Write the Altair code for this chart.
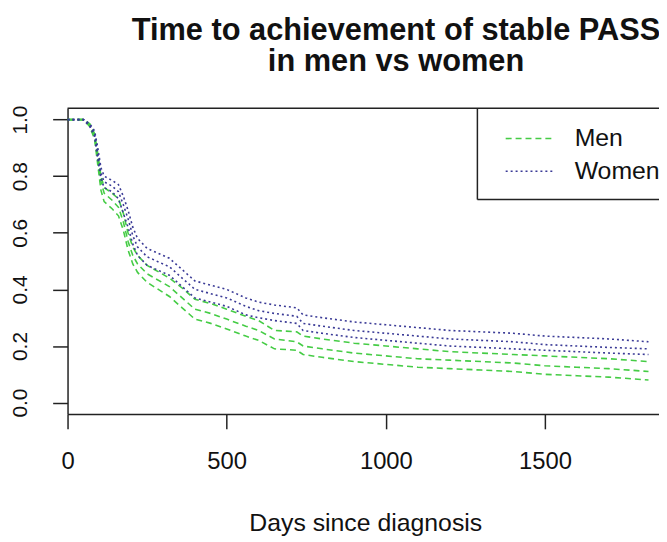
import altair as alt
import pandas as pd

days = [0, 50, 70, 85, 95, 105, 115, 140, 160, 175, 190, 205, 220, 250, 320,
        360, 400, 450, 500, 560, 600, 650, 720, 740, 800, 900, 1000, 1100, 1200, 1300,
        1400, 1500, 1600, 1700, 1825]

women_hi = [1.0, 1.0, 0.985, 0.96, 0.90, 0.83, 0.80, 0.785, 0.77, 0.73,
            0.68, 0.62, 0.58, 0.545, 0.51, 0.47, 0.43, 0.415, 0.40, 0.37,
            0.355, 0.345, 0.335, 0.31, 0.30, 0.285, 0.275, 0.265, 0.255, 0.25,
            0.245, 0.235, 0.23, 0.225, 0.215]
women_est = [1.0, 1.0, 0.98, 0.95, 0.88, 0.81, 0.78, 0.765, 0.745, 0.70,
             0.65, 0.59, 0.55, 0.515, 0.48, 0.44, 0.40, 0.385, 0.37, 0.34,
             0.325, 0.315, 0.305, 0.28, 0.27, 0.255, 0.245, 0.235, 0.225, 0.22,
             0.215, 0.205, 0.20, 0.195, 0.19]
women_lo = [1.0, 1.0, 0.975, 0.94, 0.86, 0.79, 0.76, 0.745, 0.72, 0.67,
            0.62, 0.56, 0.52, 0.485, 0.45, 0.41, 0.37, 0.355, 0.34, 0.31,
            0.30, 0.29, 0.28, 0.255, 0.245, 0.23, 0.22, 0.21, 0.20, 0.195,
            0.19, 0.185, 0.18, 0.175, 0.17]
men_hi = [1.0, 1.0, 0.985, 0.95, 0.88, 0.80, 0.76, 0.74, 0.72, 0.67,
          0.60, 0.55, 0.52, 0.485, 0.44, 0.405, 0.365, 0.35, 0.33, 0.305,
          0.29, 0.255, 0.25, 0.235, 0.225, 0.21, 0.20, 0.19, 0.18, 0.175,
          0.17, 0.165, 0.16, 0.155, 0.145]
men_est = [1.0, 1.0, 0.98, 0.94, 0.86, 0.78, 0.74, 0.715, 0.69, 0.64,
           0.57, 0.52, 0.49, 0.455, 0.41, 0.37, 0.33, 0.315, 0.295, 0.27,
           0.255, 0.225, 0.215, 0.20, 0.19, 0.175, 0.165, 0.155, 0.15, 0.145,
           0.14, 0.13, 0.125, 0.12, 0.11]
men_lo = [1.0, 1.0, 0.975, 0.93, 0.84, 0.75, 0.71, 0.685, 0.66, 0.61,
          0.54, 0.49, 0.46, 0.425, 0.375, 0.335, 0.295, 0.28, 0.26, 0.235,
          0.22, 0.19, 0.185, 0.17, 0.16, 0.145, 0.135, 0.125, 0.12, 0.115,
          0.11, 0.10, 0.095, 0.09, 0.08]

groups = ["Men", "Women"]
x_ticks = [0, 500, 1000, 1500]
y_ticks = [0.0, 0.2, 0.4, 0.6, 0.8, 1.0]

series = {
    ("Men", "hi"): men_hi, ("Men", "est"): men_est, ("Men", "lo"): men_lo,
    ("Women", "hi"): women_hi, ("Women", "est"): women_est, ("Women", "lo"): women_lo,
}
rows = []
for (sex, kind), vals in series.items():
    for d, v in zip(days, vals):
        rows.append({"day": d, "value": v, "sex": sex, "curve": f"{sex}-{kind}"})
df = pd.DataFrame(rows)

FONT = "Liberation Sans"
GREEN = "#45cc45"
BLUE = "#3a3a96"
LINE = "#222"
W, H = 596, 308
LEG_X, LEG_B = 413, 92  # legend box left edge and bottom, in plot pixels

legend = alt.Legend(
    orient="none", legendX=LEG_X, legendY=0, title=None,
    symbolType="M-5,0H5", symbolSize=100, symbolStrokeWidth=1.6,
    symbolOffset=23, labelOffset=32, padding=18, rowPadding=7,
    labelFontSize=25, labelFont=FONT, labelColor="#111", labelLimit=400,
)

lines = alt.Chart(df).mark_line(strokeWidth=1.6, clip=True).encode(
    x=alt.X("day:Q",
            scale=alt.Scale(domain=[0, 1858], nice=False, zero=False),
            axis=alt.Axis(values=x_ticks, format="d", title="Days since diagnosis",
                          grid=False, tickSize=15, tickWidth=1.5, tickColor=LINE,
                          domainColor=LINE, domainWidth=1.5,
                          labelFontSize=24, labelFont=FONT, labelColor="#111",
                          labelPadding=21, labelBaseline="top", labelFlush=False,
                          titleFont=FONT, titleFontSize=25, titleFontWeight="normal",
                          titleColor="#111", titleX=300, titleY=117,
                          titleBaseline="alphabetic")),
    y=alt.Y("value:Q",
            scale=alt.Scale(domain=[-0.04, 1.04], nice=False, zero=False),
            axis=alt.Axis(values=y_ticks, format=".1f", title=None, grid=False,
                          tickSize=15, tickWidth=1.5, tickColor=LINE,
                          domainColor=LINE, domainWidth=1.5,
                          labelFontSize=21, labelFont=FONT, labelColor="#111",
                          labelAngle=270, labelAlign="center",
                          labelBaseline="alphabetic", labelPadding=26,
                          labelFlush=False)),
    color=alt.Color("sex:N", scale=alt.Scale(domain=groups, range=[GREEN, BLUE]),
                    legend=legend),
    strokeDash=alt.StrokeDash("sex:N",
                              scale=alt.Scale(domain=groups, range=[[6, 4], [2, 3]]),
                              legend=legend),
    detail="curve:N",
)

one = pd.DataFrame({"k": [0]})
top_border = alt.Chart(one).mark_rule(color=LINE, strokeWidth=1.5).encode(
    x=alt.value(0), x2=alt.value(W), y=alt.value(0))
leg_left = alt.Chart(one).mark_rule(color=LINE, strokeWidth=1.5).encode(
    x=alt.value(LEG_X), y=alt.value(0), y2=alt.value(LEG_B))
leg_bottom = alt.Chart(one).mark_rule(color=LINE, strokeWidth=1.5).encode(
    x=alt.value(LEG_X), x2=alt.value(W), y=alt.value(LEG_B))

chart = alt.layer(lines, top_border, leg_left, leg_bottom).properties(
    width=W, height=H,
    title=alt.TitleParams(
        text=["Time to achievement of stable PASS", "in men vs women"],
        fontSize=31, fontWeight="bold", font=FONT, color="#111",
        anchor="middle", frame="group", dx=33, dy=32, baseline="bottom",
        offset=28, lineHeight=32,
    ),
    autosize=alt.AutoSizeParams(type="none"),
    padding={"left": 60, "top": 99, "right": 0, "bottom": 126},
).configure_view(stroke=None)

chart.save("out.html", embed_options={"renderer": "svg", "actions": False})
